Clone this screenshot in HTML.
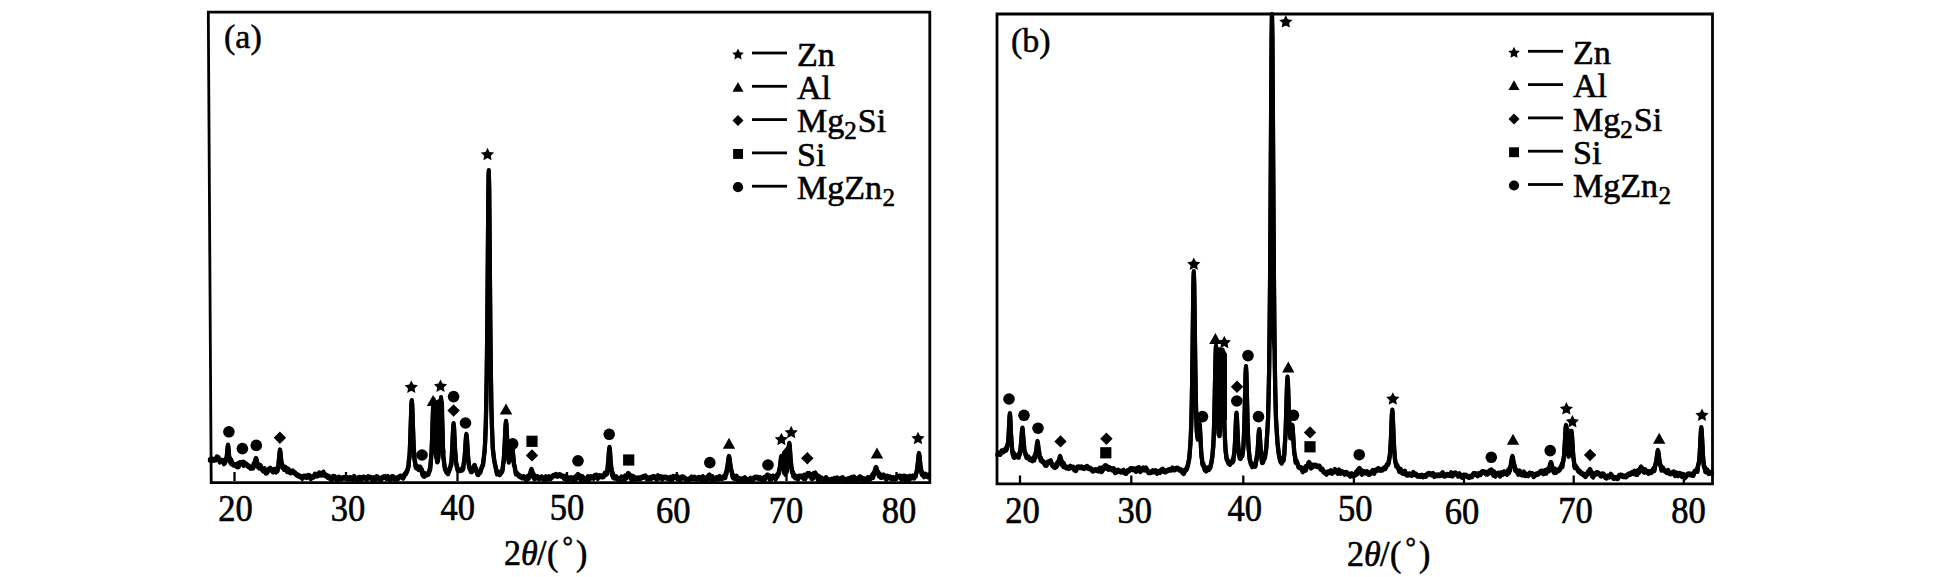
<!DOCTYPE html><html><head><meta charset="utf-8"><style>html,body{margin:0;padding:0;background:#fff;width:1949px;height:577px;overflow:hidden}svg{display:block}text{font-family:"Liberation Serif",serif;fill:#000;stroke:#000;stroke-width:0.6px}</style></head><body>
<svg width="1949" height="577" viewBox="0 0 1949 577">
<rect width="1949" height="577" fill="#fff"/>
<g fill="none" stroke="#000" stroke-width="2.8" stroke-linejoin="miter">
<path d="M208.3 12.2 L929.8 12.2 L929.8 482.6 L211.2 482.6 Z"/>
<path d="M997 14 L1712.5 14 L1712.5 483.8 L997 483.8 Z"/>
</g>
<g stroke="#000" stroke-width="2.3">
<line x1="234.5" y1="481" x2="234.5" y2="472"/>
<line x1="346" y1="481" x2="346" y2="472"/>
<line x1="457.5" y1="481" x2="457.5" y2="472"/>
<line x1="567" y1="481" x2="567" y2="472"/>
<line x1="676.8" y1="481" x2="676.8" y2="472"/>
<line x1="786.5" y1="481" x2="786.5" y2="472"/>
<line x1="896.5" y1="481" x2="896.5" y2="472"/>
<line x1="1020" y1="483" x2="1020" y2="475.5"/>
<line x1="1131.3" y1="483" x2="1131.3" y2="475.5"/>
<line x1="1243.3" y1="483" x2="1243.3" y2="475.5"/>
<line x1="1353.9" y1="483" x2="1353.9" y2="475.5"/>
<line x1="1464" y1="483" x2="1464" y2="475.5"/>
<line x1="1573.7" y1="483" x2="1573.7" y2="475.5"/>
<line x1="1683.8" y1="483" x2="1683.8" y2="475.5"/>
</g>
<g fill="none" stroke="#000" stroke-width="4.2" stroke-linejoin="round" stroke-linecap="round">
<path id="cA" d="M210 459.1 L211.4 459.8 L212.8 458.7 L214.2 459.2 L215.6 458.9 L217 456.4 L218.4 457.1 L219.8 460.9 L221.2 459.7 L222.6 460.1 L224 462.6 L224.4 460.6 L224.8 461.8 L225.2 460.2 L225.4 460.6 L225.6 458.6 L226 459.6 L226.4 459.1 L226.8 455.5 L227.2 451.7 L227.6 447 L228 444.5 L228.2 445.2 L228.4 447.1 L228.8 451.9 L229.2 456.6 L229.6 458.7 L230 457.9 L230.4 461.3 L230.8 461.2 L231 460.3 L231.2 459.5 L231.6 462.8 L232 461.6 L232.4 462.7 L233.8 464.1 L235.2 464.1 L236.6 465.4 L237.4 463.8 L237.8 465.4 L238 464.1 L238.2 465.8 L238.6 465.5 L239 462.5 L239.4 462.4 L239.8 463.4 L240.2 463 L240.6 462.6 L240.8 462.4 L241 462.2 L241.4 462 L241.8 462 L242.2 462.2 L242.6 462.4 L243 462.6 L243.4 461.7 L243.6 464.4 L243.8 462.5 L244.2 463.3 L244.6 462.4 L245 463.4 L245.4 463.2 L246.4 463.6 L247.8 465.2 L249.2 465.8 L250.6 467.3 L252 466.3 L252.4 467 L252.8 466.6 L253.2 466.8 L253.4 465.5 L253.6 463.4 L254 465.2 L254.4 463 L254.8 461.7 L255.2 460.1 L255.6 458.6 L256 458 L256.2 458.2 L256.4 458.7 L256.8 460.2 L257.2 461.9 L257.6 464.9 L258 465.7 L258.4 465.2 L258.8 466.3 L259 464.6 L259.2 467 L259.6 466.4 L260 465.5 L260.4 464.9 L261.8 468.1 L263.2 469.9 L264.6 468.1 L266 472.1 L267.4 471.2 L268.8 468.7 L270.2 467.7 L271.6 469.1 L273 470.8 L274.4 469 L275.8 470.9 L276 468.6 L276.4 470.7 L276.8 468.7 L277.2 470 L277.6 469.3 L278 466.1 L278.4 465.6 L278.6 462.2 L278.8 460.4 L279.2 456.1 L279.6 451.6 L280 449.5 L280.4 451.4 L280.8 455.6 L281.2 459.7 L281.4 461.4 L281.6 462.1 L282 463.3 L282.4 466.5 L282.8 465.3 L283.2 466.3 L283.6 467.4 L284 468.3 L284.2 466.7 L285.6 466.8 L287 470.4 L288.4 468.8 L289.8 471.5 L291.2 471.7 L292.6 470.4 L294 471.6 L295.4 472.7 L296.8 474 L298.2 474.7 L299.6 475.5 L301 476 L302.4 477.2 L303.8 475.7 L305.2 475.5 L306.6 476.5 L308 474.9 L309.4 475.1 L310.8 477.6 L312.2 476 L313.6 476 L315 473.6 L316.4 474.7 L317.8 474.8 L319.2 472.4 L320.6 474.1 L322 473.8 L323.4 471.6 L324.8 474.5 L326.2 474.7 L327.6 476.2 L329 475.8 L330.4 477.9 L331.8 478.4 L333.2 475.8 L334.6 476 L336 478.2 L337.4 479.2 L338.8 476.7 L340.2 477.4 L341.6 477.9 L343 477 L344.4 477.1 L345.8 477 L347.2 477.2 L348.6 478 L350 477 L351.4 477.3 L352.8 478.7 L354.2 476 L355.6 478 L357 478.6 L358.4 477.1 L359.8 476.8 L361.2 478.9 L362.6 476.8 L364 476.6 L365.4 477.4 L366.8 478.3 L368.2 476.2 L369.6 476.9 L371 476.9 L372.4 478.7 L373.8 477.2 L375.2 478.7 L376.6 476.2 L378 476.8 L379.4 477.9 L380.8 478.7 L382.2 477.1 L383.6 476.3 L385 475.9 L386.4 477.3 L387.8 476.1 L389.2 478.3 L390.6 478.4 L392 476 L393.4 476.3 L394.8 478.2 L396.2 477.6 L397.6 478.1 L399 476.5 L400.4 475.6 L401.8 475.8 L403.2 477 L404.6 474 L406 472.4 L407.4 469.4 L407.8 468 L408.2 466.1 L408.6 465.4 L408.8 461.1 L409 458.6 L409.4 457.1 L409.8 450.1 L410.2 439.7 L410.6 428.4 L411 415.7 L411.4 404.7 L411.6 401.3 L411.8 400 L412.2 404.3 L412.6 415.1 L413 427.4 L413.4 438.4 L413.8 448.8 L414.2 453.3 L414.4 457.6 L414.6 459.6 L415 460.3 L415.4 464.3 L415.8 466.2 L416.3 466.8 L416.7 467 L417.1 466.6 L417.2 466.9 L417.5 466.7 L417.9 466.2 L418.3 468 L418.6 466.8 L418.7 468.5 L419.1 467 L419.5 466.8 L419.9 466.6 L420 466.6 L420.3 466.7 L420.7 467.6 L421.1 468.8 L421.4 469.7 L421.5 470 L421.9 469.3 L422.3 473.2 L422.7 473.1 L422.8 474.1 L423.1 474.4 L423.5 474.9 L423.9 474.2 L424.2 472.5 L424.3 475.2 L425.6 473.9 L427 473.7 L428.4 473.1 L429.6 469.5 L429.8 468.2 L430 469.2 L430.4 465.5 L430.8 461 L431.2 455.7 L431.6 451.1 L432 440.5 L432.4 428.7 L432.6 422.2 L432.8 415.6 L433.2 404.1 L433.6 399.1 L434 403.5 L434.4 414.4 L434.8 426.9 L435.2 437.9 L435.4 442.5 L435.6 446.4 L436 453.6 L436.4 456 L436.8 457.8 L437 459.6 L437.2 460.9 L437.4 458.5 L437.6 460.4 L437.8 460.2 L438.2 457.4 L438.6 453.3 L439 444 L439.4 437 L439.6 431.6 L439.8 425.6 L440.2 412.8 L440.6 401.6 L441 397.1 L441.4 402.1 L441.8 413.8 L442.2 427.1 L442.4 433.4 L442.6 439 L443 448.9 L443.4 456.7 L443.8 458.8 L444.2 463.1 L444.6 465.5 L445 468.2 L445.2 468.5 L446.6 471.2 L448 472.6 L449.4 468.6 L449.6 468.4 L450 467.7 L450.4 466.2 L450.8 463.8 L451.2 463.9 L451.6 459.1 L452 451.7 L452.2 448 L452.4 443.9 L452.8 434.7 L453.2 426.5 L453.6 423 L454 426.4 L454.4 434.4 L454.8 443.3 L455 447.4 L455.2 451 L455.6 455.4 L456 461.2 L456.4 463.4 L456.8 465.4 L457.2 466.9 L457.6 468.9 L457.8 469 L459.2 469.6 L460.6 469.3 L462 469 L462.4 467.7 L462.8 468.4 L463.2 467.7 L463.4 465.7 L463.6 463.7 L464 461.5 L464.4 458.8 L464.8 454.6 L465.2 448.7 L465.6 442.1 L466 436.4 L466.2 434.6 L466.4 434 L466.8 436.4 L467.2 442.1 L467.6 448.8 L468 454.7 L468.4 459.7 L468.8 463.9 L469 463.8 L469.2 466.4 L469.6 467.5 L470 468 L470.4 468.6 L470.5 469.2 L470.9 470.4 L471.3 469.7 L471.7 470.8 L471.8 469.9 L472.1 469 L472.5 469.7 L472.9 469.6 L473.2 468.1 L473.3 467.8 L473.7 466.5 L474.1 465.3 L474.5 464.8 L474.6 464.8 L474.9 465.5 L475.3 466.9 L475.7 468.5 L476 469.4 L476.1 468.1 L476.5 470.3 L476.9 471 L477.3 473 L477.4 473.3 L477.7 471.5 L478.1 473.6 L478.5 473.4 L478.8 471.5 L480.2 471.5 L481.6 467.1 L483 463.9 L484.4 451.9 L484.8 447.3 L485.2 439.7 L485.6 429.3 L485.8 423.1 L486 415 L486.4 393.9 L486.8 368.8 L487.2 332.4 L487.6 286.6 L488 234.7 L488.4 189 L488.6 175 L488.8 170 L489.2 189.1 L489.6 234.7 L490 286.7 L490.4 332.5 L490.8 366.9 L491.2 394.3 L491.4 407.1 L491.6 413.4 L492 427.5 L492.4 437.5 L492.8 447.6 L494.2 459.7 L495.6 466.1 L497 472.9 L498.4 471.7 L499.8 473.5 L501.2 471.5 L502 470.5 L502.4 469.7 L502.6 467.6 L502.8 467.4 L503.2 462.2 L503.6 461.4 L504 455.7 L504.4 449.3 L504.8 441.2 L505.2 432.2 L505.4 427.9 L505.6 424.3 L506 420.9 L506.4 423.9 L506.8 431.4 L507.2 440 L507.6 447.5 L508 454 L508.2 454 L508.4 458.1 L508.8 461 L509.2 458.8 L509.6 459.4 L510 458.7 L510.4 456 L510.8 452.5 L511 450.6 L511.2 448.7 L511.6 445.6 L512 444.5 L512.4 446.3 L512.8 450.2 L513.2 454.8 L513.6 459.1 L513.8 461 L514 464 L514.4 464.7 L514.8 466.7 L515.2 468.7 L515.6 471.3 L516 472.7 L516.6 472.5 L518 474 L519.4 475.2 L520.8 475.9 L522.2 476.8 L523.6 475.9 L525 477.3 L526.4 478.8 L527.5 476.6 L527.8 477.6 L527.9 475.5 L528.3 477.2 L528.7 477.1 L529.1 476.3 L529.2 475.6 L529.5 475 L529.9 474.6 L530.3 472.7 L530.6 471.5 L530.7 471.1 L531.1 469.6 L531.5 469 L531.9 469.6 L532 470 L532.3 471.1 L532.7 472.7 L533.1 475.5 L533.4 473.6 L533.5 473.6 L533.9 476.6 L534.3 477.7 L534.7 476.6 L534.8 476.4 L535.1 477.5 L535.5 475.7 L536.2 476.2 L537.6 476.2 L539 477.7 L540.4 476.7 L541.8 476.4 L543.2 478.1 L544.6 478.9 L546 476.3 L547.4 477.6 L548.8 476.3 L550.2 477.7 L551.6 476.5 L553 475.1 L554.4 474.7 L555.8 473.8 L557.2 475.2 L558.6 474.6 L560 474.1 L561.4 475.2 L562.8 475.5 L564.2 477.5 L565.6 475.7 L567 479.2 L568.4 477.3 L569.8 477.8 L571.2 477.2 L572.6 478.5 L573.9 478.3 L574 477.4 L574.3 477.1 L574.7 477.8 L575.1 478.2 L575.4 476.4 L575.5 477.6 L575.9 478.1 L576.3 475.9 L576.7 475.5 L576.8 475.4 L577.1 474.9 L577.5 474.3 L577.9 474 L578.2 474.2 L578.3 474.3 L578.7 474.9 L579.1 475.5 L579.5 475.1 L579.6 475.2 L579.9 477.2 L580.3 477.3 L580.7 478.6 L581 478.3 L581.1 476.1 L581.5 476 L581.9 476.3 L582.4 476.1 L583.8 478.1 L585.2 478.6 L586.6 478.6 L588 476.1 L589.4 478.2 L590.8 476 L592.2 476.3 L593.6 477.3 L595 474.8 L596.4 474.7 L597.8 477.3 L599.2 475.2 L600.6 475.3 L602 475.9 L603.4 475.8 L604.8 472.8 L605.5 473.5 L605.9 473.5 L606.2 473.2 L606.3 472 L606.7 472.5 L607.1 472.4 L607.5 468.2 L607.6 468 L607.9 463.9 L608.3 460.7 L608.7 454.9 L609 450.6 L609.1 449.3 L609.5 446.8 L609.9 449.4 L610.3 455.2 L610.4 456.7 L610.7 461 L611.1 464.9 L611.5 469.7 L611.8 469.5 L611.9 472.8 L612.3 474.4 L612.7 472.5 L613.1 476.3 L613.2 474.4 L613.5 476.2 L614.6 477.1 L616 476.1 L617.4 478 L618.8 478 L620.2 478.5 L621.6 476.5 L623 478.2 L624.3 478.8 L624.4 477.7 L624.7 477.2 L625.1 475.5 L625.5 476.7 L625.8 476.1 L625.9 477.3 L626.3 476.8 L626.7 475.6 L627.1 475 L627.2 474.8 L627.5 474.1 L627.9 473.3 L628.3 473 L628.6 473.2 L628.7 473.3 L629.1 474.1 L629.5 475 L629.9 475.9 L630 474.6 L630.3 476.7 L630.7 477 L631.1 475.6 L631.4 478.3 L631.5 477.5 L631.9 475.7 L632.3 478.7 L632.8 475.9 L634.2 476.7 L635.6 478.1 L637 477.6 L638.4 477.4 L639.8 477.7 L641.2 477 L642.6 476.4 L644 475.8 L645.4 475.4 L646.8 477.7 L648.2 477.8 L649.6 477 L651 477.7 L652.4 476.3 L653.8 476 L655.2 476.5 L656.6 478.3 L658 475.3 L659.4 477 L660.8 476.1 L662.2 478 L663.6 476.6 L665 476.5 L666.4 476.8 L667.8 477.3 L669.2 478.2 L670.6 476.7 L672 478.5 L673.4 475.9 L674.8 476.5 L676.2 475.9 L677.6 476 L679 478.4 L680.4 478.3 L681.8 476.4 L683.2 476.4 L684.6 477.3 L686 478.5 L687.4 478.8 L688.8 478.5 L690.2 478 L691.6 476.4 L693 477.4 L694.4 476.7 L695.8 477.9 L697.2 478.1 L698.6 476.8 L700 477 L701.4 478.9 L702.8 476.2 L704.2 479 L705.3 479.2 L705.6 479.4 L705.7 477.3 L706.1 477.8 L706.5 477.8 L706.9 477.8 L707 479 L707.3 477.7 L707.7 476.6 L708.1 476.1 L708.4 475.6 L708.5 475.4 L708.9 474.8 L709.3 474.5 L709.7 474.8 L709.8 474.9 L710.1 475.5 L710.5 476.2 L710.9 476.1 L711.2 478.4 L711.3 477.2 L711.7 477.9 L712.1 478.6 L712.5 476.1 L712.6 478.9 L712.9 478.6 L713.3 478.1 L714 478.3 L715.4 478 L716.8 477 L718.2 478 L719.6 476 L721 477.3 L722.4 477.4 L723.8 476 L725 475.3 L725.2 476.5 L725.4 475.9 L725.8 472.3 L726.2 473.5 L726.6 471.4 L727 467.2 L727.4 466.2 L727.8 463.1 L728 461.4 L728.2 459.8 L728.6 457.1 L729 456 L729.4 457.1 L729.8 459.8 L730.2 463.1 L730.6 466.2 L730.8 467.6 L731 468.4 L731.4 470 L731.8 471 L732.2 473.8 L732.6 476 L733 474.5 L733.6 477.1 L735 477.3 L736.4 475.7 L737.8 478.6 L739.2 477.9 L740.6 479.1 L742 478.4 L743.4 478.6 L744.8 477.2 L746.2 478.9 L747.6 479.4 L749 479.2 L750.4 477.8 L751.8 479 L753.2 478.1 L754.6 476.8 L756 476.6 L757.4 476.8 L758.8 477.3 L760.2 477.1 L761.6 478.1 L763 478.7 L763.5 478 L763.9 477.5 L764.3 478.1 L764.4 476.9 L764.7 477.3 L765.1 478.1 L765.5 476.5 L765.8 476.5 L765.9 476.4 L766.3 475.9 L766.7 475.3 L767.1 474.7 L767.2 474.6 L767.5 474.5 L767.9 474.7 L768.3 475.2 L768.6 475.6 L768.7 475.7 L769.1 476.2 L769.5 475.5 L769.9 478.3 L770 477.8 L770.3 476.6 L770.7 476.8 L771.1 477.4 L771.4 477.7 L771.5 476.4 L772.8 475.6 L774.2 476.1 L775.6 477.8 L777 474.7 L777.4 475.4 L777.8 473.9 L778.2 473.3 L778.4 472.7 L778.6 473 L779 470.7 L779.4 468.3 L779.8 467.4 L780.2 464.1 L780.6 460.5 L781 457.3 L781.2 456.2 L781.4 455.9 L781.8 457 L782.2 460.1 L782.6 463.6 L783 466.6 L783.4 467.6 L783.8 469.5 L784 471.3 L784.2 470.2 L784.6 470.7 L785 472.4 L785.3 472.3 L785.4 473.3 L785.7 470.6 L786.1 471.2 L786.5 470 L786.8 467.3 L786.9 470.2 L787.3 464.7 L787.7 461.7 L788.1 456.6 L788.2 455.1 L788.5 450.5 L788.9 445.1 L789.3 442.8 L789.6 444.2 L789.7 445.2 L790.1 450.7 L790.5 456.8 L790.9 462.1 L791 461.8 L791.3 466 L791.7 467.8 L792.1 471.5 L792.4 471.6 L792.5 471.1 L792.9 471.8 L793.3 474.9 L793.8 473.9 L795.2 476.7 L796.6 476 L798 478 L799.4 475.7 L800.8 475.5 L802.2 475.5 L803.6 477.3 L803.8 476.6 L804.2 475.6 L804.6 474.6 L805 476.6 L805.4 477.4 L805.8 475.8 L806.2 475 L806.4 474.8 L806.6 474.5 L807 473.9 L807.4 473.3 L807.8 473 L808.2 473.2 L808.6 473.8 L809 474.4 L809.2 474.7 L809.4 473.2 L809.8 473.6 L810.2 474.1 L810.6 474.5 L811 474.1 L811.2 474.2 L811.4 476.4 L811.6 477.3 L811.8 474.8 L812 477.6 L812.4 475.7 L812.8 476.8 L813.2 476.9 L813.4 476.8 L813.6 473.2 L814 474.3 L814.4 473.5 L814.8 472.8 L815.2 472.5 L815.6 472.9 L816 473.8 L816.2 474.3 L816.4 474.7 L816.8 475.5 L817.2 475.4 L817.6 477 L818 478.5 L818.4 475.7 L818.8 476.6 L819 478.7 L819.2 476.1 L820.4 477.4 L821.8 477.6 L823.2 479 L824.6 479.9 L826 477.2 L827.4 479.3 L828.8 479.2 L830.2 479.6 L831.6 478.6 L833 479.9 L834.4 477.9 L835.8 478.1 L837.2 477.4 L838.6 479.4 L840 478.3 L841.4 477.6 L842.8 477.2 L844.2 479.2 L845.6 478.8 L847 479.2 L848.4 478 L849.8 478.4 L851.2 477.1 L852.6 479 L854 476.4 L855.4 477.9 L856.8 478.9 L858.2 478.5 L859.6 476.3 L861 476.8 L862.4 478.9 L863.8 478.1 L865.2 478.8 L866.6 478.7 L868 477 L869.4 478.3 L870.8 477.4 L872 475.4 L872.2 475.4 L872.4 474.1 L872.8 474.9 L873.2 476.3 L873.6 472.5 L874 473.2 L874.4 471.8 L874.8 470.3 L875 469.5 L875.2 468.8 L875.6 467.5 L876 467 L876.4 467.5 L876.8 468.7 L877.2 470.2 L877.6 471.6 L877.8 472.2 L878 471.3 L878.4 472.2 L878.8 474.9 L879.2 473.9 L879.6 473.6 L880 474.2 L880.6 476.2 L882 476.3 L883.4 474.5 L884.8 475.5 L886.2 478.2 L887.6 475.6 L889 476.9 L890.4 476.4 L891.8 477.8 L893.2 477.2 L894.6 477.9 L896 477 L897.4 475.8 L898.8 475.9 L900.2 475.6 L901.6 478.3 L903 475.8 L904.4 475.5 L905.8 479 L907.2 476.3 L908.6 478.8 L910 475.8 L911.4 476.9 L912.8 475.5 L914.2 476.9 L915 475.4 L915.4 475 L915.6 475.1 L915.8 475.1 L916.2 472.2 L916.6 471.7 L917 469 L917.4 466.4 L917.8 462.7 L918.2 458.5 L918.4 456.4 L918.6 454.6 L919 453 L919.4 454.6 L919.8 458.3 L920.2 462.4 L920.6 466 L921 467.4 L921.2 471.1 L921.4 471.1 L921.8 473.2 L922.2 472 L922.6 473.8 L923 474 L924 475.6 L925.4 473.6 L926.8 475 L928.2 475.8 L929 474.5"/>
<path id="cB" d="M997.5 453.7 L998.9 452.4 L1000.3 453.3 L1001.7 450.3 L1003.1 450.9 L1004.5 449.7 L1005.9 447.9 L1006.3 449 L1006.7 446.7 L1007.1 447.1 L1007.3 445 L1007.5 444.2 L1007.9 442.7 L1008.3 440.1 L1008.7 432.9 L1009.1 424.9 L1009.5 416.6 L1009.9 413 L1010.1 414.3 L1010.3 417.4 L1010.7 426.4 L1011.1 435.2 L1011.5 440.6 L1011.9 445.7 L1012.3 450.1 L1012.7 453.2 L1012.9 452.6 L1013.1 452.5 L1013.5 455.6 L1013.9 452.9 L1014.3 456.4 L1015.7 455.5 L1017.1 455.3 L1018.4 454.2 L1018.5 454.8 L1018.8 456.2 L1019.2 453.2 L1019.6 453.7 L1019.9 452.8 L1020 451.4 L1020.4 449.8 L1020.8 444.7 L1021.2 441.6 L1021.3 440.2 L1021.6 435.8 L1022 430.1 L1022.4 427.5 L1022.7 429 L1022.8 430 L1023.2 435.6 L1023.6 441.4 L1024 444.4 L1024.1 445.8 L1024.4 449.9 L1024.8 451.1 L1025.2 452.2 L1025.5 453.9 L1025.6 453.7 L1026 454 L1026.4 456.4 L1026.9 456.7 L1028.3 456.4 L1029.7 458.6 L1031.1 458.7 L1032.5 459.7 L1033.5 458.7 L1033.9 456.8 L1034.3 458.9 L1034.7 455.2 L1035.1 455.4 L1035.3 456.1 L1035.5 453.1 L1035.9 452.3 L1036.3 449.6 L1036.7 446 L1037.1 442.6 L1037.5 441 L1037.9 442.6 L1038.1 444.2 L1038.3 446 L1038.7 449.6 L1039.1 450.8 L1039.5 455.1 L1039.9 456.8 L1040.3 457.2 L1040.7 459.2 L1040.9 457.6 L1041.1 459.3 L1041.5 459.5 L1042.3 460.4 L1043.7 461.4 L1045.1 464 L1046.5 464.3 L1047.9 461.5 L1049.3 461.1 L1050.7 460.1 L1052.1 464.1 L1053.5 465.4 L1054.9 466.5 L1056.1 465.7 L1056.3 463.7 L1056.5 464 L1056.9 464.8 L1057.3 462.2 L1057.7 463.4 L1058.1 461.7 L1058.5 460.6 L1058.9 460.6 L1059.1 459.7 L1059.3 458.8 L1059.7 456.9 L1060.1 456 L1060.5 456.9 L1060.9 458.8 L1061.3 460.6 L1061.7 460.4 L1061.9 463.5 L1062.1 461.6 L1062.5 462.6 L1062.9 463.5 L1063.3 465.5 L1063.7 462.9 L1064.1 464.3 L1064.7 465 L1066.1 466.7 L1067.5 466.9 L1068.9 467.4 L1070.3 465.7 L1071.7 466.5 L1073.1 466.7 L1074.5 468.9 L1075.9 469.5 L1077.3 466.5 L1078.7 466.4 L1080.1 466.5 L1081.5 466.4 L1082.9 467.1 L1084.3 467.5 L1085.7 466.6 L1087.1 465.9 L1088.5 467.6 L1089.9 467.6 L1091.3 468.5 L1092.7 470.1 L1094.1 469.4 L1095.5 469 L1096.9 469.5 L1098.3 469.9 L1099.7 467.6 L1101.1 470.5 L1101.4 470 L1101.8 470.3 L1102.2 469.9 L1102.5 468.2 L1102.6 468.2 L1103 466.9 L1103.4 468.4 L1103.8 467.4 L1103.9 467.2 L1104.2 466.7 L1104.6 465.9 L1105 465.3 L1105.3 465 L1105.4 465 L1105.8 465.3 L1106.2 465.9 L1106.6 466.7 L1106.7 466.9 L1107 467.4 L1107.4 466.3 L1107.8 466.7 L1108.1 467.5 L1108.2 467.4 L1108.6 468.2 L1109 467.3 L1109.4 467.2 L1109.5 467.8 L1110.9 467.8 L1112.3 468.9 L1113.7 468.1 L1115.1 471.5 L1116.5 470.9 L1117.9 469.6 L1119.3 470.3 L1120.7 471 L1122.1 470.9 L1123.5 469.7 L1124.9 472.1 L1126.3 472.3 L1127.7 470.1 L1129.1 469.9 L1130.5 468.2 L1131.9 468 L1133.3 468.7 L1134.7 468.4 L1136.1 470.3 L1137.5 467.8 L1138.9 467.2 L1140.3 470.5 L1141.7 468.9 L1143.1 467.4 L1144.5 468.9 L1145.9 467.4 L1147.3 469.6 L1148.7 471.6 L1150.1 471.6 L1151.5 471.4 L1152.9 470.2 L1154.3 470.9 L1155.7 470.2 L1157.1 472.1 L1158.5 470.9 L1159.9 471.4 L1161.3 469.4 L1162.7 468.7 L1164.1 470.5 L1165.5 470.8 L1166.9 469.9 L1168.3 469.4 L1169.7 469.1 L1171.1 469 L1172.5 467.5 L1173.9 468.8 L1175.3 468.5 L1176.7 467.6 L1178.1 467.9 L1179.5 469.1 L1180.9 469.4 L1182.3 471.2 L1183.7 472.5 L1185.1 469.5 L1186.5 468.5 L1187.9 464.5 L1189.3 457.3 L1189.8 450.9 L1190.2 445.8 L1190.6 439.3 L1190.7 437.2 L1191 430.1 L1191.4 418.6 L1191.8 401.4 L1192.1 382.4 L1192.2 375.7 L1192.6 345.6 L1193 312.2 L1193.4 283.4 L1193.5 278.3 L1193.8 271.2 L1194.2 282.4 L1194.6 310.2 L1194.9 334.5 L1195 342.5 L1195.4 372 L1195.6 384.6 L1195.8 396.8 L1196 404.8 L1196.2 413.3 L1196.3 417.3 L1196.4 417.8 L1196.6 425.2 L1196.8 430.3 L1197 433.1 L1197.2 435.3 L1197.4 435.9 L1197.6 435.7 L1197.7 438 L1197.8 436.4 L1198 436.5 L1198.4 433.7 L1198.8 429.1 L1199.1 425.6 L1199.2 424.6 L1199.6 423.4 L1200 427.6 L1200.4 435.2 L1200.5 437.2 L1200.8 443.1 L1201.2 450.9 L1201.6 456.6 L1201.9 457.4 L1202 458.3 L1202.4 462.9 L1202.8 464.1 L1203.2 463.4 L1203.3 463.5 L1203.6 464.3 L1204.7 468.7 L1206.1 469.9 L1207.5 467.4 L1208.9 468.4 L1210.3 466.5 L1211.7 460.5 L1212 457.7 L1212.4 455.6 L1212.8 450.1 L1213.1 445.7 L1213.2 447.5 L1213.6 438.3 L1214 426.7 L1214.4 411.7 L1214.5 407.3 L1214.8 393 L1215.2 372 L1215.6 353.6 L1215.9 346.3 L1216 345.6 L1216.4 352.3 L1216.8 369.3 L1217.2 388.9 L1217.3 393.5 L1217.6 406 L1218 420.6 L1218.4 427.7 L1218.5 431 L1218.7 433.4 L1218.8 432.2 L1218.9 433.1 L1219.2 434.5 L1219.3 434.3 L1219.6 434.5 L1219.7 432.6 L1220 429.8 L1220.1 427.2 L1220.5 421.5 L1220.9 407.5 L1221.3 391.1 L1221.5 381.8 L1221.7 372.3 L1222.1 356 L1222.5 349.5 L1222.9 357.1 L1223.3 374.5 L1223.7 394.5 L1224.1 412.3 L1224.3 419.9 L1224.5 425.9 L1224.9 436.9 L1225.3 444.9 L1225.7 451.3 L1226.1 453.2 L1226.5 457.6 L1227.1 458.8 L1228.5 462.2 L1229.9 463.3 L1231.3 461.3 L1232.5 461.1 L1232.7 459.7 L1232.9 458.5 L1233.3 460 L1233.7 455.8 L1234.1 453.9 L1234.5 450.5 L1234.9 443.7 L1235.3 435.5 L1235.5 430.7 L1235.7 425.7 L1236.1 416.5 L1236.5 412.5 L1236.9 416.4 L1237.3 425.4 L1237.7 434.9 L1238.1 442.6 L1238.3 445.9 L1238.5 447.6 L1238.9 452.1 L1239.3 454.7 L1239.7 457 L1240.1 455.4 L1240.5 457.4 L1241.1 456.2 L1242 454.5 L1242.4 454.6 L1242.5 453.1 L1242.8 451.3 L1243.2 448.2 L1243.6 443.1 L1243.9 435.4 L1244 433.7 L1244.4 421.6 L1244.8 406.4 L1245.2 388.7 L1245.3 384.2 L1245.6 372.7 L1246 366 L1246.4 372.9 L1246.7 384.6 L1246.8 389 L1247.2 407 L1247.6 422.5 L1248 434.4 L1248.1 436.9 L1248.4 443.8 L1248.8 449 L1249.2 453.5 L1249.5 455.6 L1249.6 458 L1250 459.3 L1250.9 463 L1252.3 465.6 L1253.7 463.8 L1255.1 464 L1255.2 465.2 L1255.6 464.1 L1256 460.5 L1256.4 458.8 L1256.5 459.5 L1256.8 456.4 L1257.2 453.8 L1257.6 450.2 L1257.9 446 L1258 444.4 L1258.4 437.6 L1258.8 431.6 L1259.2 429 L1259.3 429.2 L1259.6 431.6 L1260 437.6 L1260.4 444.4 L1260.7 448.9 L1260.8 450.2 L1261.2 453.2 L1261.6 458.6 L1262 460.8 L1262.1 461.5 L1262.4 459.3 L1262.8 461.4 L1263.2 460.9 L1263.5 458.6 L1264.9 456.6 L1266.3 447.3 L1267.7 424.1 L1268 419.2 L1268.4 404.2 L1268.8 386.8 L1269.1 371 L1269.2 363.7 L1269.6 328.2 L1270 285.5 L1270.4 230.2 L1270.5 214.6 L1270.8 164.1 L1271.2 94.3 L1271.6 36.9 L1271.9 15.5 L1272 14 L1272.4 36.9 L1272.8 94.3 L1273.2 164.1 L1273.3 181.4 L1273.6 230.2 L1274 285.8 L1274.4 328.9 L1274.7 354 L1274.8 361.8 L1275.2 387.6 L1275.6 402.9 L1276 417.8 L1276.1 420.1 L1277.5 442.2 L1278.9 454 L1280.3 460.3 L1281.7 462 L1283.1 457.8 L1283.5 459.4 L1283.9 456.3 L1284.3 453.7 L1284.5 448.5 L1284.7 446.6 L1285.1 439.6 L1285.5 433.9 L1285.9 422 L1286.3 408.7 L1286.7 394.2 L1287.1 381.9 L1287.3 378.1 L1287.5 376.6 L1287.9 381 L1288.3 392.3 L1288.7 405.7 L1289.1 417.5 L1289.5 425.8 L1289.9 431.1 L1290.1 433.9 L1290.3 436.7 L1290.7 435.3 L1291.1 433 L1291.5 429.2 L1291.9 425.5 L1292.3 424.6 L1292.7 427.8 L1292.9 430.6 L1293.1 433.8 L1293.5 440.5 L1293.9 446.5 L1294.3 452.4 L1294.7 453.9 L1295.1 456.1 L1295.5 460.8 L1295.7 460.3 L1295.9 461.4 L1296.3 460.2 L1297.1 461.6 L1298.5 466.1 L1299.9 466.9 L1301.3 467.2 L1302.7 470.7 L1304.1 469.1 L1304.9 469.3 L1305.3 466.5 L1305.5 469.1 L1305.7 466.1 L1306.1 468.6 L1306.5 466.7 L1306.9 465.7 L1307.3 465.4 L1307.7 464.5 L1308.1 463.4 L1308.3 462.9 L1308.5 462.5 L1308.9 462 L1309.3 462.3 L1309.7 463 L1310.1 463.9 L1310.5 464.6 L1310.9 465.4 L1311.1 467 L1311.3 464.8 L1311.7 464.6 L1312.1 466.2 L1312.5 465.2 L1312.9 464.8 L1313.9 464.9 L1315.3 464.7 L1316.7 465.3 L1318.1 465.7 L1319.5 465.7 L1320.9 468.5 L1322.3 468.5 L1323.7 471 L1325.1 471.6 L1326.5 473.1 L1327.9 471.4 L1329.3 471.6 L1330.7 470.2 L1332.1 472.2 L1333.5 470.9 L1334.9 469 L1336.3 470.3 L1337.7 472.2 L1339.1 469.5 L1340.5 472.3 L1341.9 471.2 L1343.3 471.7 L1344.7 473.2 L1346.1 471.8 L1347.5 472.6 L1348.9 473.6 L1350.3 475.1 L1351.7 473.2 L1353.1 474.9 L1354.5 474.2 L1355.4 473.7 L1355.8 472.7 L1355.9 472.5 L1356.2 471.3 L1356.6 471.3 L1357 470.8 L1357.3 472.8 L1357.4 471 L1357.8 470 L1358.2 470.4 L1358.6 469.4 L1358.7 469.1 L1359 468.4 L1359.4 468 L1359.8 468.3 L1360.1 469 L1360.2 469.2 L1360.6 470.1 L1361 470.8 L1361.4 469.9 L1361.5 472.7 L1361.8 473.1 L1362.2 472.6 L1362.6 471.3 L1362.9 471.3 L1363 471.5 L1363.4 472.1 L1364.3 471.1 L1365.7 472 L1367.1 471.1 L1368.5 473.4 L1369.9 473.2 L1371.3 471.4 L1372.7 470 L1374.1 472.3 L1375.5 469.7 L1376.9 469.6 L1378.3 468 L1379.7 469.1 L1381.1 469.2 L1382.5 468.9 L1383.9 467.4 L1385.3 467.6 L1386.7 464.5 L1388.1 463.3 L1388.3 462.2 L1388.7 462.1 L1389.1 459.1 L1389.5 456.6 L1389.9 454.1 L1390.3 448.7 L1390.7 442.7 L1390.9 438.4 L1391.1 433.6 L1391.5 423 L1391.9 413.5 L1392.3 409.5 L1392.7 413.5 L1393.1 423 L1393.5 433.6 L1393.7 438.4 L1393.9 442.7 L1394.3 450 L1394.7 454.9 L1395.1 459.2 L1395.5 461.3 L1395.9 463.2 L1396.3 465.1 L1396.5 463.8 L1397.9 466.2 L1399.3 470.4 L1400.7 468.8 L1402.1 471.8 L1403.5 472.3 L1404.9 470.8 L1406.3 473.8 L1407.7 474.1 L1409.1 473.3 L1410.5 473.9 L1411.9 474.3 L1413.3 472 L1414.7 473.6 L1416.1 473.7 L1417.5 475 L1418.9 475.1 L1420.3 475.3 L1421.7 474.6 L1423.1 475.8 L1424.5 475.2 L1425.9 475.4 L1427.3 473.6 L1428.7 472.8 L1430.1 473.1 L1431.5 473.9 L1432.9 472.9 L1434.3 475.4 L1435.7 474.4 L1437.1 474.5 L1438.5 474.4 L1439.9 474.6 L1441.3 473.9 L1442.7 472.1 L1444.1 475 L1445.5 474.8 L1446.9 473.9 L1448.3 474 L1449.7 474.5 L1451.1 472.3 L1452.5 474.8 L1453.9 473 L1455.3 472.4 L1456.7 473.2 L1458.1 475 L1459.5 473.3 L1460.9 475.4 L1462.3 476.3 L1463.7 474.7 L1465.1 474.5 L1466.5 475 L1467.9 475.9 L1469.3 476.3 L1470.7 475.7 L1472.1 475.5 L1473.5 473.2 L1474.9 473.2 L1476.3 473.3 L1477.7 474.7 L1479.1 472.9 L1480.5 473.5 L1481.9 471.3 L1483.3 471.2 L1484.7 471.6 L1486.1 473 L1487.3 473.1 L1487.5 473.1 L1487.7 471.7 L1488.1 472.4 L1488.5 472.2 L1488.9 472 L1489.3 470.5 L1489.7 471.5 L1490.1 471 L1490.3 470.7 L1490.5 470.3 L1490.9 469.7 L1491.3 469.5 L1491.7 469.8 L1492.1 470.5 L1492.5 471.3 L1492.9 473.3 L1493.1 471.1 L1493.3 474.1 L1493.7 474.3 L1494.1 471.3 L1494.5 473 L1494.9 474.5 L1495.3 475.1 L1495.9 473.4 L1497.3 473 L1498.7 472.6 L1500.1 475 L1501.5 472.1 L1502.9 473.2 L1504.3 471.2 L1505.7 472.2 L1507.1 473.2 L1508.4 469.5 L1508.5 471.9 L1508.8 470.4 L1509.2 471.2 L1509.6 469.7 L1509.9 467.2 L1510 469.3 L1510.4 466.3 L1510.8 464.3 L1511.2 461.8 L1511.3 461.2 L1511.6 459.2 L1512 456.9 L1512.4 456 L1512.7 456.5 L1512.8 456.9 L1513.2 459.2 L1513.6 461.8 L1514 464.3 L1514.1 464.8 L1514.4 464.6 L1514.8 466.1 L1515.2 469 L1515.5 469.5 L1515.6 469.1 L1516 469.1 L1516.4 470.3 L1516.9 470.5 L1518.3 473.1 L1519.7 470.5 L1521.1 473.5 L1522.5 474 L1523.9 471.5 L1525.3 474.5 L1526.7 473.9 L1528.1 474.7 L1529.5 472.6 L1530.9 473 L1532.3 473.2 L1533.7 475.5 L1535.1 474.1 L1536.5 473.4 L1537.9 473.2 L1539.3 472.2 L1540.7 470.9 L1542.1 470.6 L1543.5 472.7 L1544.9 470.2 L1546.3 472 L1546.9 469.3 L1547.3 469.2 L1547.7 469.8 L1548.1 468.3 L1548.5 468.4 L1548.9 469.8 L1549.1 469 L1549.3 467 L1549.7 465.7 L1550.1 464.1 L1550.5 462.6 L1550.9 462 L1551.3 462.6 L1551.7 464.1 L1551.9 464.9 L1552.1 465.7 L1552.5 467 L1552.9 469.2 L1553.3 469.4 L1553.7 470.9 L1554.1 471.4 L1554.5 470.2 L1554.7 470.9 L1554.9 468.6 L1556.1 471.3 L1557.5 469.6 L1558.9 469.5 L1560.3 467.6 L1561.7 464.7 L1562 463.4 L1562.4 465.7 L1562.8 461.6 L1563.1 461.5 L1563.2 460.6 L1563.6 457.8 L1564 455.6 L1564.4 449.6 L1564.5 448 L1564.8 442.8 L1565.2 435 L1565.6 428 L1565.9 425.1 L1566 424.9 L1566.4 427.5 L1566.8 434.1 L1567.2 441.3 L1567.3 443 L1567.5 446 L1567.6 447.4 L1567.9 452.5 L1568 450.8 L1568.3 454.3 L1568.4 453.5 L1568.7 455.2 L1568.8 454.7 L1569.1 453.6 L1569.2 453.2 L1569.5 451.9 L1569.6 453.7 L1569.9 449.5 L1570 448.4 L1570.1 447.2 L1570.3 444.5 L1570.7 438.4 L1571.1 432.9 L1571.5 430.7 L1571.9 433.6 L1572.3 439.8 L1572.7 446.7 L1572.9 449.9 L1573.1 452.7 L1573.5 457.3 L1573.9 459.7 L1574.3 464.5 L1574.7 466.5 L1575.1 465.6 L1575.5 465.3 L1575.7 465.8 L1577.1 467.7 L1578.5 470.3 L1579.9 470.8 L1581.3 472.4 L1582.7 473.1 L1584.1 474.3 L1585.5 475.4 L1586 474.9 L1586.4 473.6 L1586.8 473.5 L1586.9 473.9 L1587.2 473.2 L1587.6 472.8 L1588 471.4 L1588.3 471.7 L1588.4 472.3 L1588.8 471.4 L1589.2 470.4 L1589.6 469.4 L1589.7 469.2 L1590 469 L1590.4 469.5 L1590.8 470.6 L1591.1 471.5 L1591.2 471.7 L1591.6 472.7 L1592 475.1 L1592.4 472.6 L1592.5 474.1 L1592.8 474.8 L1593.2 475.9 L1593.6 473.8 L1593.9 474.1 L1594 474 L1595.3 473.3 L1596.7 472 L1598.1 472.5 L1599.5 473.5 L1600.9 475 L1602.3 473.3 L1603.7 473.7 L1605.1 476.2 L1606.5 476.9 L1607.9 475.4 L1609.3 475.9 L1610.7 473.8 L1612.1 475.3 L1613.5 477.3 L1614.9 477 L1616.3 477.1 L1617.7 477.6 L1619.1 475.1 L1620.5 474.6 L1621.9 474.9 L1623.3 475.6 L1624.7 475.5 L1626.1 475.7 L1627.5 474.3 L1628.9 473.4 L1630.3 473.3 L1631.7 472.1 L1633.1 472.5 L1634.5 470.6 L1635.9 473.1 L1637 471 L1637.3 473.4 L1637.4 472.3 L1637.8 470.9 L1638.2 470 L1638.6 470.1 L1638.7 471.4 L1639 471.3 L1639.4 469.9 L1639.8 469 L1640.1 468.2 L1640.2 467.9 L1640.6 467 L1641 466.5 L1641.4 466.9 L1641.5 467 L1641.8 467.7 L1642.2 468.7 L1642.6 469.4 L1642.9 468.5 L1643 468.5 L1643.4 470.5 L1643.8 470.9 L1644.2 470.3 L1644.3 469.8 L1644.6 471.2 L1645 469.1 L1645.7 470.2 L1647.1 470.7 L1648.5 472.4 L1649.9 471 L1651.3 471.5 L1652.7 469.4 L1653.9 467.6 L1654.1 467.4 L1654.3 469.6 L1654.7 468 L1655.1 465.5 L1655.5 463 L1655.9 462.8 L1656.3 460.3 L1656.7 457.3 L1656.9 455.6 L1657.1 454 L1657.5 451.2 L1657.9 450 L1658.3 451.1 L1658.7 453.9 L1659.1 457.1 L1659.5 460.1 L1659.7 461.5 L1659.9 463.2 L1660.3 464.2 L1660.7 465 L1661.1 467.5 L1661.5 469.1 L1661.9 467.1 L1662.5 467 L1663.9 469.1 L1665.3 470.1 L1666.7 471.5 L1668.1 470.1 L1669.5 472.6 L1670.9 472.7 L1672.3 472.2 L1673.7 471.4 L1675.1 474.5 L1676.5 472.5 L1677.9 474.6 L1679.3 472.9 L1680.7 473.2 L1682.1 475.4 L1683.5 474.1 L1684.9 476.8 L1686.3 475.1 L1687.7 473.5 L1689.1 473.3 L1690.5 473.6 L1691.9 474.1 L1693.3 474.5 L1694.7 470.7 L1696.1 470.3 L1697.3 467.9 L1697.5 470.2 L1697.7 466.7 L1698.1 465.1 L1698.5 463.2 L1698.9 461.7 L1699.3 459.6 L1699.7 452.7 L1700.1 445.6 L1700.3 441.6 L1700.5 437.5 L1700.9 430.1 L1701.3 427 L1701.7 430.1 L1702.1 437.5 L1702.5 445.6 L1702.9 452.7 L1703.1 457 L1703.3 459 L1703.7 463.8 L1704.1 466.4 L1704.5 466.1 L1704.9 466.9 L1705.3 470.5 L1705.9 470.8 L1707.3 469.6 L1708.7 472.5 L1710.1 471.9 L1711.5 472 L1712 471.9"/>
<use href="#cA" transform="translate(0,1.6)"/>
<use href="#cB" transform="translate(0,1.6)"/>
</g>
<g fill="#000">
<polygon points="432.5,402 437,400 441,398 444,402 445,446 445.5,453 431,453 432,446"/>
<polygon points="782,452 787,446 789.5,447 790,466 781,467"/>
<polygon points="1214.5,350 1219,347 1224,349 1227,354 1227,420 1214.5,420"/>
<polygon points="1564.5,428 1567,426 1572.5,432 1574,445 1563.5,445"/>
<polygon points="486.4,393.9 486.8,368.8 487.2,332.4 487.6,286.6 488,234.7 488.4,189 488.6,175 488.8,170 489.2,189.1 489.6,234.7 490,286.7 490.4,332.5 490.8,366.9"/>
<polygon points="410.2,439.7 410.6,428.4 411,415.7 411.4,404.7 411.6,401.3 411.8,400 412.2,404.3 412.6,415.1 413,427.4 413.4,438.4 413.8,448.8"/>
<polygon points="1269.6,328.2 1270,285.5 1270.4,230.2 1270.5,214.6 1270.8,164.1 1271.2,94.3 1271.6,36.9 1271.9,15.5 1272,14 1272.4,36.9 1272.8,94.3 1273.2,164.1 1273.3,181.4 1273.6,230.2 1274,285.8 1274.4,328.9 1274.7,354 1274.8,361.8"/>
<polygon points="1191.8,401.4 1192.1,382.4 1192.2,375.7 1192.6,345.6 1193,312.2 1193.4,283.4 1193.5,278.3 1193.8,271.2 1194.2,282.4 1194.6,310.2 1194.9,334.5 1195,342.5 1195.4,372 1195.6,384.6 1195.8,396.8 1196,404.8"/>
<polygon points="1390.3,448.7 1390.7,442.7 1390.9,438.4 1391.1,433.6 1391.5,423 1391.9,413.5 1392.3,409.5 1392.7,413.5 1393.1,423 1393.5,433.6 1393.7,438.4 1393.9,442.7"/>
<polygon points="1699.7,452.7 1700.1,445.6 1700.3,441.6 1700.5,437.5 1700.9,430.1 1701.3,427 1701.7,430.1 1702.1,437.5 1702.5,445.6 1702.9,452.7"/>
<polygon points="918.2,458.5 918.4,456.4 918.6,454.6 919,453 919.4,454.6 919.8,458.3"/>
<polygon points="608.7,454.9 609,450.6 609.1,449.3 609.5,446.8 609.9,449.4 610.3,455.2 610.4,456.7"/>
<circle cx="228.9" cy="431.8" r="5.8"/>
<circle cx="242.4" cy="448.6" r="5.8"/>
<circle cx="256.3" cy="445.4" r="5.8"/>
<circle cx="422" cy="455" r="5.8"/>
<circle cx="453.6" cy="396.6" r="5.8"/>
<circle cx="465.5" cy="423" r="5.8"/>
<circle cx="512.7" cy="443.8" r="5.8"/>
<circle cx="578" cy="460.8" r="5.8"/>
<circle cx="609.2" cy="434.3" r="5.8"/>
<circle cx="709.8" cy="462.6" r="5.8"/>
<circle cx="768" cy="465" r="5.8"/>
<polygon points="279.9,431.5 286.1,437.7 279.9,443.9 273.7,437.7"/>
<polygon points="453.6,404.3 459.8,410.5 453.6,416.7 447.4,410.5"/>
<polygon points="532,449.2 538.2,455.4 532,461.6 525.8,455.4"/>
<polygon points="807.3,452 813.5,458.2 807.3,464.4 801.1,458.2"/>
<rect x="526.4" y="435.7" width="11.2" height="11.2"/>
<rect x="623.1" y="454.4" width="11.2" height="11.2"/>
<polygon points="433,394.9 439.2,405.9 426.8,405.9"/>
<polygon points="506,403.4 512.2,414.4 499.8,414.4"/>
<polygon points="729,437.8 735.2,448.8 722.8,448.8"/>
<polygon points="877,447.4 883.2,458.4 870.8,458.4"/>
<polygon points="411.3,380.5 413.3,384.6 417.9,385.3 414.6,388.5 415.4,393 411.3,390.8 407.2,393 408,388.5 404.7,385.3 409.3,384.6"/>
<polygon points="440.5,379.4 442.5,383.5 447.1,384.2 443.8,387.4 444.6,391.9 440.5,389.7 436.4,391.9 437.2,387.4 433.9,384.2 438.5,383.5"/>
<polygon points="487.5,147.8 489.5,151.9 494.1,152.6 490.8,155.8 491.6,160.3 487.5,158.1 483.4,160.3 484.2,155.8 480.9,152.6 485.5,151.9"/>
<polygon points="781.4,432.7 783.4,436.8 788,437.5 784.7,440.7 785.5,445.2 781.4,443 777.3,445.2 778.1,440.7 774.8,437.5 779.4,436.8"/>
<polygon points="791.2,425.8 793.2,429.9 797.8,430.6 794.5,433.8 795.3,438.3 791.2,436.1 787.1,438.3 787.9,433.8 784.6,430.6 789.2,429.9"/>
<polygon points="918,431.7 920,435.8 924.6,436.5 921.3,439.7 922.1,444.2 918,442 913.9,444.2 914.7,439.7 911.4,436.5 916,435.8"/>
<circle cx="1009" cy="399" r="5.8"/>
<circle cx="1024" cy="415.3" r="5.8"/>
<circle cx="1038" cy="428.2" r="5.8"/>
<circle cx="1202.5" cy="416.6" r="5.8"/>
<circle cx="1236.8" cy="401" r="5.8"/>
<circle cx="1248" cy="355.6" r="5.8"/>
<circle cx="1258.5" cy="416.6" r="5.8"/>
<circle cx="1293.5" cy="415.3" r="5.8"/>
<circle cx="1359.2" cy="454.7" r="5.8"/>
<circle cx="1491.3" cy="457.3" r="5.8"/>
<circle cx="1550.2" cy="450.6" r="5.8"/>
<polygon points="1060.5,435.2 1066.7,441.4 1060.5,447.6 1054.3,441.4"/>
<polygon points="1106.4,432.6 1112.6,438.8 1106.4,445 1100.2,438.8"/>
<polygon points="1237,380.6 1243.2,386.8 1237,393 1230.8,386.8"/>
<polygon points="1310,426.2 1316.2,432.4 1310,438.6 1303.8,432.4"/>
<polygon points="1590.1,448.8 1596.3,455 1590.1,461.2 1583.9,455"/>
<rect x="1100.2" y="447.2" width="11.2" height="11.2"/>
<rect x="1304.4" y="441.2" width="11.2" height="11.2"/>
<polygon points="1215.4,333.1 1221.6,344.1 1209.2,344.1"/>
<polygon points="1288.3,361.4 1294.5,372.4 1282.1,372.4"/>
<polygon points="1513,433.8 1519.2,444.8 1506.8,444.8"/>
<polygon points="1659.2,432.8 1665.4,443.8 1653,443.8"/>
<polygon points="1193.8,257.5 1195.8,261.6 1200.4,262.3 1197.1,265.5 1197.9,270 1193.8,267.8 1189.7,270 1190.5,265.5 1187.2,262.3 1191.8,261.6"/>
<polygon points="1224.3,335.7 1226.3,339.8 1230.9,340.5 1227.6,343.7 1228.4,348.2 1224.3,346 1220.2,348.2 1221,343.7 1217.7,340.5 1222.3,339.8"/>
<polygon points="1285.8,15.1 1287.8,19.2 1292.4,19.9 1289.1,23.1 1289.9,27.6 1285.8,25.4 1281.7,27.6 1282.5,23.1 1279.2,19.9 1283.8,19.2"/>
<polygon points="1392.8,392.2 1394.8,396.3 1399.4,397 1396.1,400.2 1396.9,404.7 1392.8,402.5 1388.7,404.7 1389.5,400.2 1386.2,397 1390.8,396.3"/>
<polygon points="1566.4,402.1 1568.4,406.2 1573,406.9 1569.7,410.1 1570.5,414.6 1566.4,412.4 1562.3,414.6 1563.1,410.1 1559.8,406.9 1564.4,406.2"/>
<polygon points="1572.4,414.9 1574.4,419 1579,419.7 1575.7,422.9 1576.5,427.4 1572.4,425.2 1568.3,427.4 1569.1,422.9 1565.8,419.7 1570.4,419"/>
<polygon points="1702,408.5 1704,412.6 1708.6,413.3 1705.3,416.5 1706.1,421 1702,418.8 1697.9,421 1698.7,416.5 1695.4,413.3 1700,412.6"/>
</g>
<g font-size="34.5" text-anchor="middle" style="stroke-width:1.3px">
<text transform="translate(235.5,521.4) scale(1,1.08)">20</text>
<text transform="translate(1022.4,522.5) scale(1,1.08)">20</text>
<text transform="translate(348,521.4) scale(1,1.08)">30</text>
<text transform="translate(1134.8,522.5) scale(1,1.08)">30</text>
<text transform="translate(457.8,520.4) scale(1,1.08)">40</text>
<text transform="translate(1244.7,521.4) scale(1,1.08)">40</text>
<text transform="translate(567,520.4) scale(1,1.08)">50</text>
<text transform="translate(1355.2,521.4) scale(1,1.08)">50</text>
<text transform="translate(673.2,522.6) scale(1,1.08)">60</text>
<text transform="translate(1462,523.5) scale(1,1.08)">60</text>
<text transform="translate(785.9,522.5) scale(1,1.08)">70</text>
<text transform="translate(1575.5,523.2) scale(1,1.08)">70</text>
<text transform="translate(899,522.5) scale(1,1.08)">80</text>
<text transform="translate(1688.5,523.2) scale(1,1.08)">80</text>
</g>
<g transform="translate(504,564.5) scale(1,1.06)" font-size="34" style="stroke-width:0.75px"><text x="0" y="0">2</text><text x="17" y="0" font-style="italic">θ</text><text x="33" y="0">/</text><text x="43" y="0">(</text><text x="58.5" y="-8.8" font-size="26">°</text><text x="72" y="0">)</text></g>
<g transform="translate(1347,565.5) scale(1,1.06)" font-size="34" style="stroke-width:0.75px"><text x="0" y="0">2</text><text x="17" y="0" font-style="italic">θ</text><text x="33" y="0">/</text><text x="43" y="0">(</text><text x="58.5" y="-8.8" font-size="26">°</text><text x="72" y="0">)</text></g>
<text x="224" y="48" font-size="34" style="stroke-width:0.5px">(a)</text>
<text x="1011" y="52" font-size="34" style="stroke-width:0.5px">(b)</text>
<g fill="#000"><polygon points="738,48.5 739.8,52.2 743.8,52.7 740.9,55.5 741.6,59.5 738,57.6 734.4,59.5 735.1,55.5 732.2,52.7 736.2,52.2"/><rect x="752" y="51.6" width="35" height="2.8"/><text transform="translate(797,65.6)" font-size="34" style="stroke-width:0.6px">Zn</text><polygon points="738,82 743.5,91.7 732.5,91.7"/><rect x="752" y="84.9" width="35" height="2.8"/><text transform="translate(797,98.9)" font-size="34" style="stroke-width:0.6px">Al</text><polygon points="738,115.1 743.5,120.6 738,126.1 732.5,120.6"/><rect x="752" y="118.2" width="35" height="2.8"/><text transform="translate(797,132.2)" font-size="34" style="stroke-width:0.6px">Mg<tspan font-size="25" dy="7">2</tspan><tspan dy="-7" dx="1">Si</tspan></text><rect x="733.1" y="149" width="9.9" height="9.9"/><rect x="752" y="151.5" width="35" height="2.8"/><text transform="translate(797,165.5)" font-size="34" style="stroke-width:0.6px">Si</text><circle cx="738" cy="187.2" r="5.1"/><rect x="752" y="184.8" width="35" height="2.8"/><text transform="translate(797,198.8)" font-size="34" style="stroke-width:0.6px">MgZn<tspan font-size="25" dy="7" dx="0.5">2</tspan></text><polygon points="1514,46.8 1515.8,50.5 1519.8,51 1516.9,53.8 1517.6,57.8 1514,55.9 1510.4,57.8 1511.1,53.8 1508.2,51 1512.2,50.5"/><rect x="1528" y="49.9" width="35" height="2.8"/><text transform="translate(1573,63.9)" font-size="34" style="stroke-width:0.6px">Zn</text><polygon points="1514,80.3 1519.5,90 1508.5,90"/><rect x="1528" y="83.2" width="35" height="2.8"/><text transform="translate(1573,97.2)" font-size="34" style="stroke-width:0.6px">Al</text><polygon points="1514,113.4 1519.5,118.9 1514,124.4 1508.5,118.9"/><rect x="1528" y="116.5" width="35" height="2.8"/><text transform="translate(1573,130.5)" font-size="34" style="stroke-width:0.6px">Mg<tspan font-size="25" dy="7">2</tspan><tspan dy="-7" dx="1">Si</tspan></text><rect x="1509.1" y="147.3" width="9.9" height="9.9"/><rect x="1528" y="149.8" width="35" height="2.8"/><text transform="translate(1573,163.8)" font-size="34" style="stroke-width:0.6px">Si</text><circle cx="1514" cy="185.5" r="5.1"/><rect x="1528" y="183.1" width="35" height="2.8"/><text transform="translate(1573,197.1)" font-size="34" style="stroke-width:0.6px">MgZn<tspan font-size="25" dy="7" dx="0.5">2</tspan></text></g>
</svg></body></html>
